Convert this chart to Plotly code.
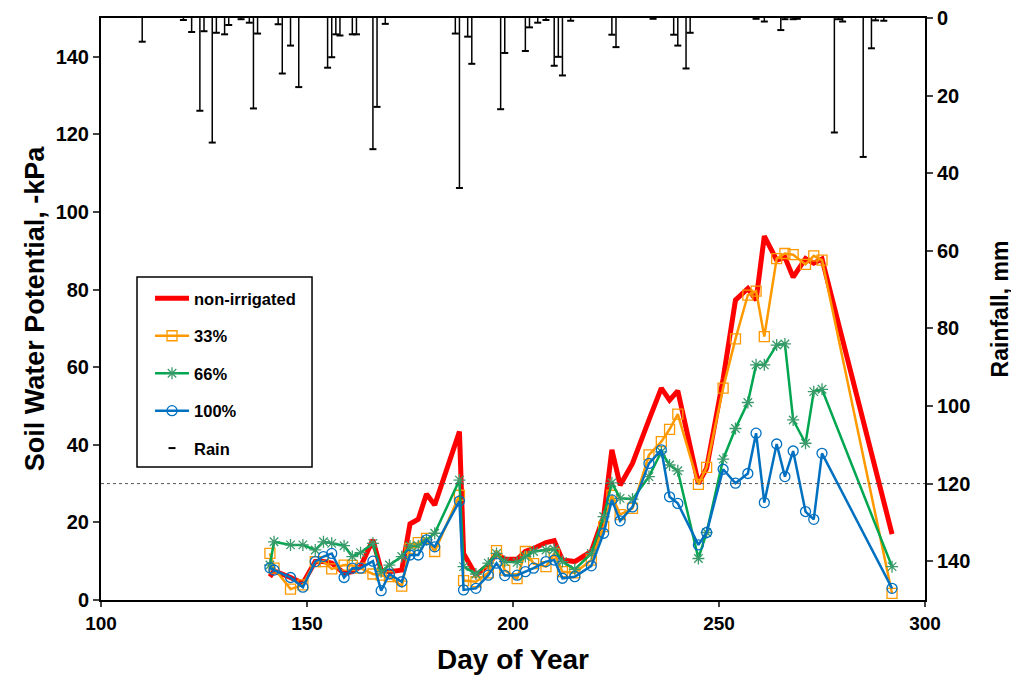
import plotly.graph_objects as go

days = [141, 142, 146, 149, 152, 154, 156, 159, 161, 163, 166, 168, 170, 173, 175, 177, 179, 181,
        187, 188, 191, 194, 196, 198, 201, 203, 205, 208, 210, 212, 215, 219, 222, 224, 226, 229,
        233, 236, 238, 240, 245, 247, 251, 254, 257, 259, 261, 264, 266, 268, 271, 273, 275, 292]

non_irrigated = [6.0, 7.5, 5.8, 4.3, 9.9, 9.9, 9.5, 6.9, 7.3, 8.6, 15.5, 7.7, 7.3, 7.7, 19.6, 20.8, 27.3, 24.5,
                 43.4, 12.0, 6.4, 9.0, 12.0, 10.5, 10.5, 12.5, 13.3, 14.8, 15.3, 10.3, 9.9, 12.5, 21.5, 38.7, 29.6, 35.2,
                 46.4, 54.6, 51.5, 53.9, 30.0, 34.0, 57.0, 77.3, 80.3, 77.3, 93.8, 87.6, 88.3, 83.2, 88.0, 86.8, 87.9, 17.0]

irr33 = [12.0, 8.2, 2.8, 3.9, 9.9, 9.9, 8.0, 9.0, 8.9, 8.2, 6.7, 6.4, 6.0, 3.6, 13.3, 14.8, 15.9, 12.5,
         27.0, 5.0, 4.7, 7.0, 12.7, 7.7, 5.5, 12.5, 9.4, 8.6, 12.0, 7.3, 7.0, 10.3, 18.9, 27.0, 22.0, 23.6,
         37.4, 40.8, 44.0, 47.9, 29.8, 34.2, 54.6, 67.3, 78.6, 79.6, 67.9, 88.0, 89.3, 89.0, 86.5, 88.7, 87.6, 1.7]

irr66 = [9.0, 15.0, 14.2, 14.2, 12.9, 15.0, 14.6, 14.0, 11.2, 12.2, 14.6, 7.3, 9.0, 11.2, 13.9, 14.0, 15.5, 17.2,
         30.9, 8.6, 6.7, 9.5, 12.0, 9.9, 9.7, 11.2, 12.5, 12.9, 13.1, 9.9, 7.9, 12.0, 21.5, 30.2, 26.2, 26.0,
         31.8, 38.2, 34.8, 33.3, 10.7, 17.4, 36.3, 44.2, 50.9, 60.6, 60.6, 65.7, 66.0, 46.4, 40.4, 53.7, 54.3, 8.6]

irr100 = [8.3, 7.7, 5.8, 3.3, 9.9, 11.2, 12.0, 5.8, 8.2, 8.2, 10.0, 2.4, 6.7, 4.7, 11.6, 11.6, 15.5, 13.7,
          25.5, 2.6, 3.0, 6.4, 9.5, 6.3, 6.4, 7.3, 8.2, 9.9, 10.3, 5.6, 6.0, 8.8, 17.2, 25.8, 20.4, 24.0,
          35.2, 38.7, 26.6, 24.9, 14.2, 17.4, 33.7, 30.1, 32.6, 43.0, 25.1, 40.2, 31.8, 38.4, 22.8, 20.8, 37.8, 3.0]

rain_days = [110, 120, 122, 124, 125, 127, 128, 130, 131, 134, 136, 137, 138, 143, 144, 146, 148,
             155, 156, 157, 158, 161, 162, 166, 167, 169, 186, 187, 189, 190, 197, 198, 203, 204,
             206, 208, 210, 211, 212, 214, 224, 225, 234, 239, 240, 242, 243, 259, 261, 265, 266,
             268, 269, 278, 279, 280, 285, 287, 288, 290]
rain_mm = [6.1, 0.5, 3.6, 23.9, 3.4, 32.1, 3.8, 4.2, 1.8, 0.3, 1.2, 23.3, 4.0, 1.6, 14.3, 7.1, 17.8,
           12.8, 10.1, 4.2, 4.5, 4.2, 4.2, 33.8, 22.9, 1.5, 4.0, 43.8, 4.8, 11.8, 23.5, 9.0, 8.5, 2.4,
           1.2, 0.5, 12.3, 10.0, 14.8, 0.7, 4.3, 7.5, 0.2, 4.3, 7.1, 13.0, 3.8, 0.2, 0.9, 3.1, 0.3,
           0.3, 0.2, 29.5, 0.3, 0.9, 35.8, 7.8, 0.6, 0.7]

x_ticks = [100, 150, 200, 250, 300]
y_ticks = [0, 20, 40, 60, 80, 100, 120, 140]
threshold = 30

FONT = "Liberation Sans, Arial, sans-serif"
RED = "#FF0000"
ORANGE = "#FF9900"
GREEN = "#00A650"
BLUE = "#0070C0"

fig = go.Figure()

fig.add_trace(go.Scatter(
    x=days, y=non_irrigated, name="non-irrigated", mode="lines",
    line=dict(color=RED, width=5), legendgroup="a"))
fig.add_trace(go.Scatter(
    x=days, y=irr33, name="33%", mode="lines+markers",
    line=dict(color=ORANGE, width=2.5),
    marker=dict(symbol="square-open", size=10, color=ORANGE, line=dict(width=1.3)),
    legendgroup="b"))
fig.add_trace(go.Scatter(
    x=days, y=irr66, name="66%", mode="lines+markers",
    line=dict(color=GREEN, width=2.5),
    marker=dict(symbol="asterisk-open", size=10, color="#3A9A6A", line=dict(width=1.3, color="#3A9A6A")),
    legendgroup="c"))
fig.add_trace(go.Scatter(
    x=days, y=irr100, name="100%", mode="lines+markers",
    line=dict(color=BLUE, width=2.5),
    marker=dict(symbol="circle-open", size=10, color=BLUE, line=dict(width=1.3)),
    legendgroup="d"))
fig.add_trace(go.Scatter(
    x=rain_days, y=rain_mm, name="Rain", mode="markers", yaxis="y2",
    marker=dict(symbol="line-ew", size=5, color="black", line=dict(width=2, color="black")),
    error_y=dict(type="data", symmetric=False, array=[0] * len(rain_mm), arrayminus=rain_mm,
                 width=0, thickness=1.5, color="black"),
    legendgroup="e"))

fig.add_shape(type="line", xref="paper", x0=0, x1=1, yref="y", y0=threshold, y1=threshold,
              line=dict(color="#555555", width=1, dash="dot"))
# legend frame
fig.add_shape(type="rect", xref="paper", yref="paper", x0=0.0437, x1=0.2561, y0=0.2285, y1=0.555,
              line=dict(color="black", width=1.5), fillcolor="rgba(0,0,0,0)", layer="above")

xtickfont = dict(family=FONT, size=19, color="black", weight="bold")
ytickfont = dict(family=FONT, size=20, color="black", weight="bold")

fig.update_layout(
    width=1011, height=669,
    margin=dict(l=93, r=94, t=10, b=77, autoexpand=False),
    paper_bgcolor="white", plot_bgcolor="white",
    font=dict(family=FONT, color="black"),
    showlegend=True,
    legend=dict(x=0.0595, y=0.548, xanchor="left", yanchor="top",
                borderwidth=0, bgcolor="rgba(0,0,0,0)",
                font=dict(family=FONT, size=16.5, color="black", weight="bold"),
                tracegroupgap=13, itemwidth=34),
    xaxis=dict(range=[100, 300], tickvals=x_ticks, ticks="outside", ticklen=5, tickwidth=2,
               showline=True, linecolor="black", linewidth=2, mirror=True, showgrid=False,
               zeroline=False, tickfont=xtickfont, automargin=False,
               title=dict(text="Day of Year", font=dict(family=FONT, size=28, weight="bold"), standoff=17)),
    yaxis=dict(range=[0, 150], tickvals=y_ticks, ticks="outside", ticklen=6, tickwidth=2,
               showline=True, linecolor="black", linewidth=2, showgrid=False, zeroline=False,
               tickfont=ytickfont, automargin=False,
               title=dict(text="Soil Water Potential, -kPa", font=dict(family=FONT, size=27, weight="bold"), standoff=3)),
    yaxis2=dict(range=[150, -0.01], tickvals=y_ticks, overlaying="y", side="right", ticks="outside",
                ticklen=6, tickwidth=2, showline=True, linecolor="black", linewidth=2,
                showgrid=False, zeroline=False, tickfont=ytickfont, automargin=False,
                ticklabeloverflow="allow",
                title=dict(text="Rainfall, mm", font=dict(family=FONT, size=23, weight="bold"), standoff=23)),
)

fig.write_html("out.html")
